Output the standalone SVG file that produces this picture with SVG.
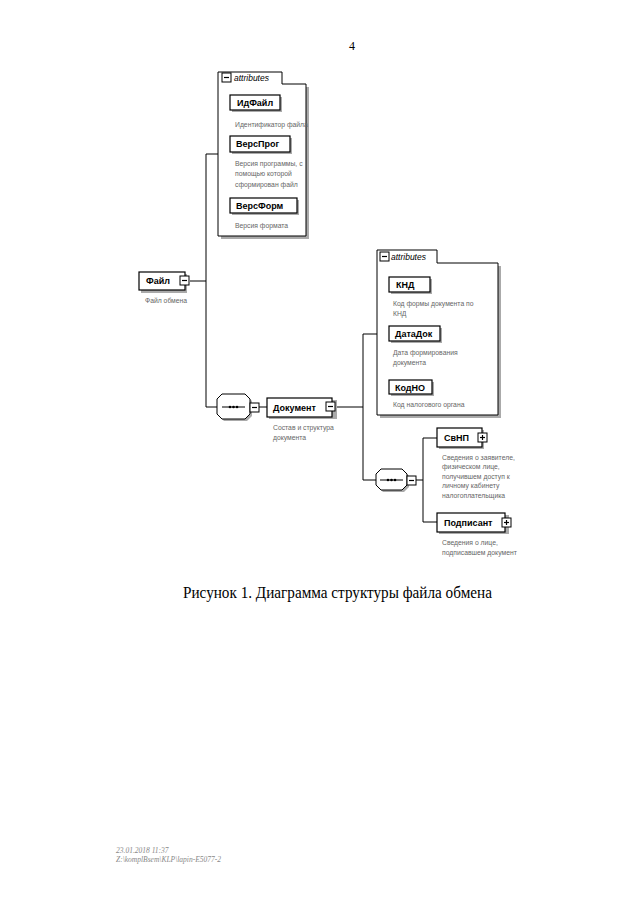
<svg xmlns="http://www.w3.org/2000/svg" width="640" height="905" viewBox="0 0 640 905">
<style>
.node{fill:#fff;stroke:#000;stroke-width:1.2}
.sh{fill:#aaa}
.nm{font-family:"Liberation Sans",Arial,sans-serif;font-weight:bold;font-size:9px;fill:#000}
.ds{font-family:"Liberation Sans",Arial,sans-serif;font-size:6.8px;fill:#666}
.at{font-family:"Liberation Sans",Arial,sans-serif;font-style:italic;font-size:8.5px;fill:#000}
.ln{fill:none;stroke:#000;stroke-width:1}
.btn{fill:#fff;stroke:#000;stroke-width:1}
</style>
<defs>
<g id="minus"><rect class="btn" x="0" y="0" width="9" height="9"/><line x1="2" y1="4.5" x2="7" y2="4.5" stroke="#000" stroke-width="1.2"/></g>
<g id="plus"><rect class="btn" x="0" y="0" width="9" height="9"/><line x1="2" y1="4.5" x2="7" y2="4.5" stroke="#000" stroke-width="1.2"/><line x1="4.5" y1="2" x2="4.5" y2="7" stroke="#000" stroke-width="1.2"/></g>
</defs>
<rect width="640" height="905" fill="#fff"/>
<text x="352" y="50" font-family="Liberation Serif,serif" font-size="12" text-anchor="middle">4</text>

<g id="connectors">
<path class="ln" d="M190 281 H206 M206 154 V407 H217 M206 154 H218"/>
<path class="ln" d="M258 407 H267"/>
<path class="ln" d="M336 407 H363 M363 334 V480 H376 M363 334 H377"/>
<path class="ln" d="M415 480 H423 M423 438 V522 H437 M423 438 H437"/>
</g>

<g id="attributes1">
<rect class="sh" x="221" y="87" width="88" height="152"/>
<path fill="#fff" stroke="#000" stroke-width="1" d="M218 236 V72 H282 V84 H306 V236 Z"/>
<use href="#minus" x="222" y="73"/>
<text class="at" x="234" y="81">attributes</text>
</g>
<g id="IdFile">
<rect class="sh" x="232" y="97" width="50" height="15"/>
<rect class="node" x="230" y="95" width="50" height="15"/>
<text class="nm" x="237" y="106">ИдФайл</text>
<text class="ds" x="235" y="127">Идентификатор файла</text>
</g>
<g id="VersProg">
<rect class="sh" x="232" y="138" width="60" height="16"/>
<rect class="node" x="230" y="136" width="60" height="16"/>
<text class="nm" x="236" y="147">ВерсПрог</text>
<text class="ds" x="235" y="166">Версия программы, с</text>
<text class="ds" x="235" y="176">помощью которой</text>
<text class="ds" x="235" y="187">сформирован файл</text>
</g>
<g id="VersForm">
<rect class="sh" x="232" y="200" width="67" height="15"/>
<rect class="node" x="230" y="198" width="67" height="15"/>
<text class="nm" x="236" y="209">ВерсФорм</text>
<text class="ds" x="235" y="228">Версия формата</text>
</g>

<g id="File">
<rect class="sh" x="141" y="274" width="46" height="19"/>
<rect class="node" x="139" y="272" width="46" height="18"/>
<text class="nm" x="146" y="284">Файл</text>
<use href="#minus" x="180" y="276"/>
<text class="ds" x="145" y="303">Файл обмена</text>
</g>

<g id="seq1">
<path class="sh" d="M224 396 H247 L252 401 V416 L247 421 H224 L219 416 V401 Z"/>
<path fill="#fff" stroke="#000" stroke-width="1" d="M222 394 H245 L250 399 V414 L245 419 H222 L217 414 V399 Z"/>
<line x1="222" y1="407" x2="245" y2="407" stroke="#000" stroke-width="1"/>
<circle cx="230" cy="407" r="1.3"/><circle cx="233.5" cy="407" r="1.3"/><circle cx="237" cy="407" r="1.3"/>
<use href="#minus" x="250" y="403"/>
</g>

<g id="Document">
<rect class="sh" x="269" y="400" width="68" height="19"/>
<rect class="node" x="267" y="398" width="65" height="19"/>
<text class="nm" x="273" y="411">Документ</text>
<use href="#minus" x="326" y="402"/>
<text class="ds" x="273" y="430">Состав и структура</text>
<text class="ds" x="273" y="440">документа</text>
</g>

<g id="attributes2">
<rect class="sh" x="380" y="266" width="121" height="152"/>
<path fill="#fff" stroke="#000" stroke-width="1" d="M377 415 V250 H437 V263 H498 V415 Z"/>
<use href="#minus" x="380" y="252"/>
<text class="at" x="391" y="260">attributes</text>
</g>
<g id="KND">
<rect class="sh" x="391" y="279" width="41" height="15"/>
<rect class="node" x="389" y="277" width="41" height="15"/>
<text class="nm" x="396" y="288">КНД</text>
<text class="ds" x="393" y="306">Код формы документа по</text>
<text class="ds" x="393" y="316">КНД</text>
</g>
<g id="DataDok">
<rect class="sh" x="391" y="328" width="51" height="15"/>
<rect class="node" x="389" y="326" width="51" height="15"/>
<text class="nm" x="395" y="337">ДатаДок</text>
<text class="ds" x="393" y="355">Дата формирования</text>
<text class="ds" x="393" y="365">документа</text>
</g>
<g id="KodNO">
<rect class="sh" x="391" y="382" width="43" height="14"/>
<rect class="node" x="389" y="380" width="43" height="14"/>
<text class="nm" x="395" y="391">КодНО</text>
<text class="ds" x="393" y="407">Код налогового органа</text>
</g>

<g id="seq2">
<path class="sh" d="M383 471 H404 L409 476 V487 L404 492 H383 L378 487 V476 Z"/>
<path fill="#fff" stroke="#000" stroke-width="1" d="M381 469 H402 L407 474 V485 L402 490 H381 L376 485 V474 Z"/>
<line x1="380" y1="480" x2="403" y2="480" stroke="#000" stroke-width="1"/>
<circle cx="388" cy="480" r="1.3"/><circle cx="391.5" cy="480" r="1.3"/><circle cx="395" cy="480" r="1.3"/>
<use href="#minus" x="407" y="476"/>
</g>

<g id="SvNP">
<rect class="sh" x="439" y="430" width="45" height="19"/>
<rect class="node" x="437" y="428" width="45" height="19"/>
<text class="nm" x="444" y="441">СвНП</text>
<use href="#plus" x="478" y="433"/>
<text class="ds" x="442" y="460">Сведения о заявителе,</text>
<text class="ds" x="442" y="469">физическом лице,</text>
<text class="ds" x="442" y="479">получившем доступ к</text>
<text class="ds" x="442" y="488">личному кабинету</text>
<text class="ds" x="442" y="498">налогоплательщика</text>
</g>

<g id="Podpisant">
<rect class="sh" x="439" y="515" width="70" height="19"/>
<rect class="node" x="437" y="513" width="68" height="19"/>
<text class="nm" x="444" y="526">Подписант</text>
<use href="#plus" x="502" y="518"/>
<text class="ds" x="442" y="545">Сведения о лице,</text>
<text class="ds" x="442" y="555">подписавшем документ</text>
</g>

<text x="183" y="598" font-family="Liberation Serif,serif" font-size="16" textLength="309" lengthAdjust="spacingAndGlyphs">Рисунок 1. Диаграмма структуры файла обмена</text>

<text x="116" y="853" font-family="Liberation Serif,serif" font-style="italic" font-size="7.5" fill="#888">23.01.2018 11:37</text>
<text x="116" y="862" font-family="Liberation Serif,serif" font-style="italic" font-size="7.5" fill="#888">Z:\komplBsem\KLP\lapin-E5077-2</text>
</svg>
